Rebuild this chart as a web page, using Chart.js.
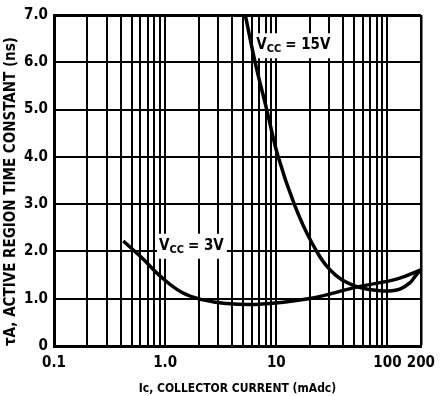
<!DOCTYPE html>
<html>
<head>
<meta charset="utf-8">
<script src="https://cdn.jsdelivr.net/npm/chart.js@4/dist/chart.umd.min.js"></script>
<style>
  html, body { margin: 0; padding: 0; background: #fff; }
  #wrap { width: 443px; height: 396px; }
</style>
</head>
<body>
<div id="wrap"><canvas id="tauChart" width="443" height="396"></canvas></div>
<script>
// Collector current (mAdc) and active region time constant (ns)
const vcc15Current = [5.26, 6.45, 8.2, 10.4, 14.5, 20.5, 31, 50.6, 87, 110, 131, 160, 178, 200];
const vcc15Tau = [7.0, 6.0, 5.0, 4.0, 3.0, 2.22, 1.59, 1.27, 1.17, 1.17, 1.21, 1.34, 1.48, 1.61];

const vcc3Current = [0.42, 0.62, 0.94, 1.42, 2.14, 3.5, 6.5, 19.4, 54, 123, 200];
const vcc3Tau = [2.22, 1.86, 1.44, 1.13, 0.98, 0.9, 0.88, 1.0, 1.25, 1.42, 1.61];

// Grid lines on the log axis and the ones that carry a label
const xGridValues = [
  0.1, 0.2, 0.3, 0.4, 0.5, 0.6, 0.7, 0.8, 0.9,
  1, 2, 3, 4, 5, 6, 7, 8, 9,
  10, 20, 30, 40, 50, 60, 70, 80, 90,
  100, 200,
];
const xTickValues = [0.1, 1, 10, 100, 200];
const xTickLabels = ["0.1", "1.0", "10", "100", "200"];
const yTickLabels = ["0", "1.0", "2.0", "3.0", "4.0", "5.0", "6.0", "7.0"];

// Curve labels, placed in data space
const curveLabels = [
  { x: 6.6, y: 6.36, tail: "= 15V" },
  { x: 0.88, y: 2.12, tail: "= 3V" },
];

const FONT = "'Liberation Sans Narrow', 'DejaVu Sans Condensed', 'Arial Narrow', sans-serif";

const toPoints = (xs, ys) => xs.map((x, i) => ({ x: x, y: ys[i] }));

// white boxed "Vcc = ..." labels drawn under the curves but over the grid
const curveLabelPlugin = {
  id: "curveLabels",
  beforeDatasetsDraw(chart) {
    const ctx = chart.ctx;
    const xs = chart.scales.x;
    const ys = chart.scales.y;
    ctx.save();
    curveLabels.forEach((lab) => {
      const px = xs.getPixelForValue(lab.x);
      const py = ys.getPixelForValue(lab.y);
      ctx.font = "bold 15px " + FONT;
      const wV = ctx.measureText("V").width;
      const wTail = ctx.measureText(lab.tail).width;
      ctx.font = "bold 11px " + FONT;
      const wCC = ctx.measureText("CC").width;
      const total = wV + wCC + 4 + wTail;

      ctx.fillStyle = "#fff";
      ctx.fillRect(px - 2, py - 12, total + 5, 25);

      ctx.fillStyle = "#000";
      ctx.textBaseline = "middle";
      ctx.textAlign = "left";
      ctx.font = "bold 15px " + FONT;
      ctx.fillText("V", px, py);
      ctx.font = "bold 11px " + FONT;
      ctx.fillText("CC", px + wV, py + 4);
      ctx.font = "bold 15px " + FONT;
      ctx.fillText(lab.tail, px + wV + wCC + 4, py);
    });
    ctx.restore();
  },
};

const ctx = document.getElementById("tauChart").getContext("2d");

const tauChart = new Chart(ctx, {
  type: "line",
  data: {
    datasets: [
      {
        label: "VCC = 15V",
        data: toPoints(vcc15Current, vcc15Tau),
        borderColor: "#000",
        borderWidth: 3.5,
        pointRadius: 0,
        tension: 0.4,
        fill: false,
      },
      {
        label: "VCC = 3V",
        data: toPoints(vcc3Current, vcc3Tau),
        borderColor: "#000",
        borderWidth: 3.5,
        pointRadius: 0,
        tension: 0.4,
        fill: false,
      },
    ],
  },
  options: {
    responsive: false,
    animation: false,
    layout: { padding: { top: 13, right: 18, left: 0, bottom: 0 } },
    plugins: {
      legend: { display: false },
      tooltip: { enabled: false },
    },
    scales: {
      x: {
        type: "logarithmic",
        min: 0.1,
        max: 200,
        afterBuildTicks: (scale) => {
          scale.ticks = xGridValues.map((v) => ({ value: v }));
        },
        afterFit: (scale) => {
          scale.height = 50;
        },
        ticks: {
          autoSkip: false,
          maxRotation: 0,
          padding: 8,
          color: "#000",
          font: { family: FONT, size: 15, weight: "bold" },
          callback: (value) => {
            const i = xTickValues.findIndex((t) => Math.abs(t - value) < 1e-9);
            return i >= 0 ? xTickLabels[i] : "";
          },
        },
        grid: {
          color: "#000",
          lineWidth: (c) => (c.tick && c.tick.value === 200 ? 2.5 : 2),
          drawTicks: false,
        },
        border: { color: "#000", width: 3 },
        title: {
          display: true,
          text: "Ic, COLLECTOR CURRENT (mAdc)",
          color: "#000",
          font: { family: FONT, size: 12, weight: "bold" },
          padding: { top: 0, bottom: 0 },
        },
      },
      y: {
        type: "linear",
        min: 0,
        max: 7,
        afterFit: (scale) => {
          scale.width = 54;
        },
        ticks: {
          stepSize: 1,
          padding: 6,
          color: "#000",
          font: { family: FONT, size: 15, weight: "bold" },
          callback: (value) => yTickLabels[value],
        },
        grid: {
          color: "#000",
          lineWidth: (c) => (c.tick && c.tick.value === 7 ? 3 : 2),
          drawTicks: false,
        },
        border: { color: "#000", width: 3 },
        title: {
          display: true,
          align: "start",
          text: "τA, ACTIVE REGION TIME CONSTANT (ns)",
          color: "#000",
          font: { family: FONT, size: 15, weight: "bold" },
          padding: { top: 2, bottom: 0 },
        },
      },
    },
  },
  plugins: [curveLabelPlugin],
});
</script>
</body>
</html>
